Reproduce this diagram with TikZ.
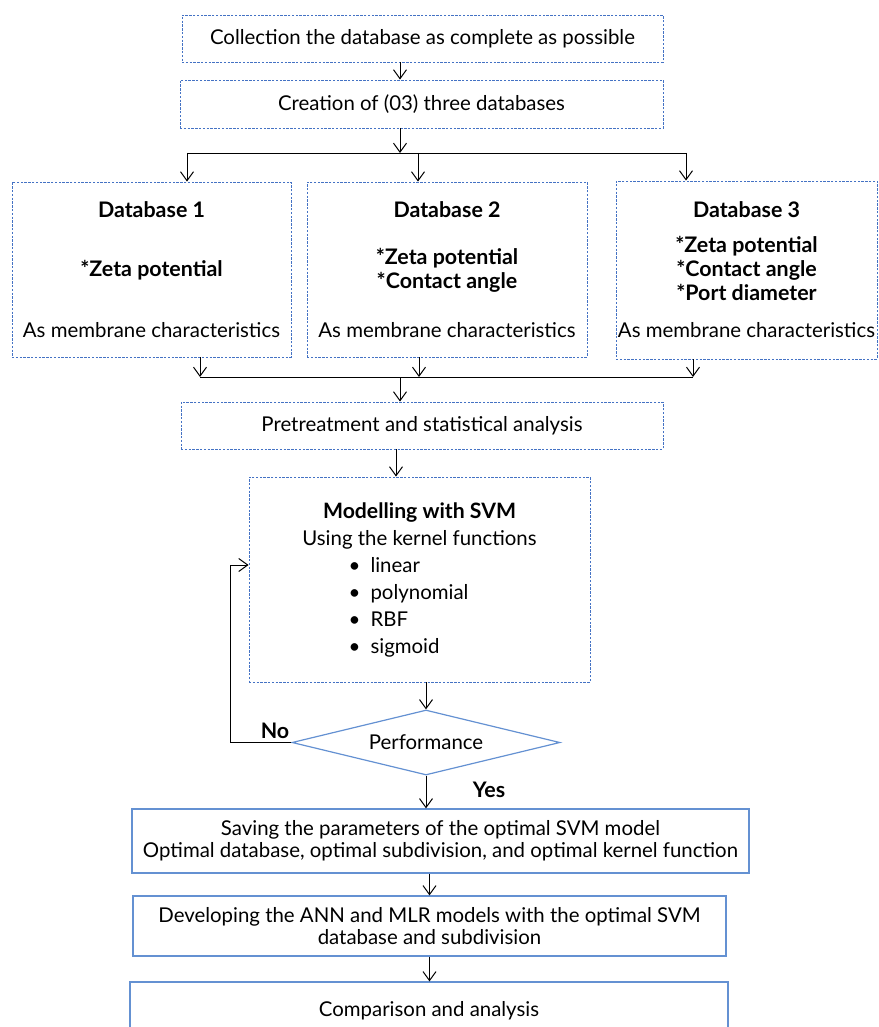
\documentclass[tikz,border=0pt]{standalone}
\usepackage{fontspec}
\setmainfont{Lato}
\usepackage{xcolor}
\usepackage{tikz}
\usetikzlibrary{shapes.geometric,arrows.meta,positioning,calc}

\definecolor{dashblue}{RGB}{68,114,196}
\definecolor{lineblue}{RGB}{100,145,210}

\newcommand{\dbhead}[1]{{\fontsize{10.7}{12}\selectfont\bfseries #1}}

\begin{document}
\begin{tikzpicture}[x=0.5pt, y=-0.5pt,
    dbox/.style={rectangle, draw=dashblue, line width=0.45pt, dash pattern=on 1.2pt off 0.7pt, inner sep=0pt, align=center, font=\fontsize{10.2}{12}\selectfont},
    sbox/.style={rectangle, draw=lineblue, line width=0.6pt, inner sep=0pt, align=center, font=\fontsize{10.2}{11}\selectfont},
    decision/.style={diamond, draw=lineblue, line width=0.6pt, inner sep=0pt, aspect=4, font=\fontsize{10.2}{11}\selectfont},
    arrow/.style={-{Straight Barb[length=4.5pt, width=6.5pt, line width=0.5pt]}, line width=0.5pt},
    lbl/.style={font=\fontsize{10.7}{12}\selectfont\bfseries}
]
\useasboundingbox (0,0) rectangle (878,1027);

% Top boxes
\node[dbox, minimum width=240.5pt, minimum height=23.5pt] (collect) at (422.5,38.5) {Collection the database as complete as possible};
\node[dbox, minimum width=241.5pt, minimum height=24pt] (create) at (421.5,104) {Creation of (03) three databases};

% Databases
\node[dbox, minimum width=139.5pt, minimum height=87.5pt] (db1) at (151.5,269.5)
  {\dbhead{Database 1}\\[17.5pt] \dbhead{*Zeta potential}\\[18.5pt] As membrane characteristics};
\node[dbox, minimum width=140pt, minimum height=87.5pt] (db2) at (447,269.5)
  {\dbhead{Database 2}\\[11.5pt] \dbhead{*Zeta potential}\\ \dbhead{*Contact angle}\\[12.5pt] As membrane characteristics};
\node[dbox, minimum width=130.5pt, minimum height=89pt] (db3) at (746.5,270)
  {\dbhead{Database 3}\\[5.5pt] \dbhead{*Zeta potential}\\ \dbhead{*Contact angle}\\ \dbhead{*Port diameter}\\[6.5pt] As membrane characteristics};

\node[dbox, minimum width=241pt, minimum height=23.5pt] (pre) at (422,425.5) {Pretreatment and statistical analysis};

% SVM block
\node[dbox, minimum width=170.5pt, minimum height=102.5pt, font=\fontsize{10.2}{13.5}\selectfont] (svm) at (419.5,579.5)
  {{\fontsize{10.6}{13.5}\selectfont\bfseries Modelling with SVM}\\ Using the kernel functions\\
   \makebox[71pt][l]{\textbullet\enspace linear}\\
   \makebox[71pt][l]{\textbullet\enspace polynomial}\\
   \makebox[71pt][l]{\textbullet\enspace RBF}\\
   \makebox[71pt][l]{\textbullet\enspace sigmoid}};

\node[decision, minimum width=134pt, minimum height=32.5pt] (perf) at (426,742.5) {Performance};

% Final steps
\node[sbox, minimum width=308.5pt, minimum height=32pt] (save) at (440.5,841)
  {Saving the parameters of the optimal SVM model\\ Optimal database, optimal subdivision, and optimal kernel function};
\node[sbox, minimum width=296.5pt, minimum height=30pt] (dev) at (429.5,926)
  {Developing the ANN and MLR models with the optimal SVM\\ database and subdivision};
\node[sbox, minimum width=299pt, minimum height=29pt] (comp) at (429,1011) {Comparison and analysis};

% Helper coordinates
\coordinate (spine) at (400,0);
\coordinate (s1) at (187,153);
\coordinate (s2) at (418,153);
\coordinate (s3) at (686,153);
\coordinate (m1) at (200,377);
\coordinate (m2) at (419,377);
\coordinate (m3) at (693,377);
\coordinate (loop) at (230,565);

% Arrows - main flow
\draw[arrow] (collect.south -| spine) -- (create.north -| spine);
\draw[arrow] (create.south -| spine) -- (spine |- s1);
\draw (s1) -- (s3);
\draw[arrow] (s1) -- (s1 |- db1.north);
\draw[arrow] (s2) -- (s2 |- db2.north);
\draw[arrow] (s3) -- (s3 |- db3.north);

% Merge
\draw[arrow] (m1 |- db1.south) -- (m1);
\draw[arrow] (m2 |- db2.south) -- (m2);
\draw[arrow] (m3 |- db3.south) -- (m3);
\draw (m1) -- (m3);
\draw[arrow] (spine |- m1) -- (spine |- pre.north);

\draw[arrow] ([xshift=-13pt]pre.south) -- ([xshift=-11.75pt]svm.north);
\draw[arrow] (svm.south -| perf.north) -- (perf.north);

% Loop back
\draw[arrow] (perf.west) -| (loop) -- (loop -| svm.west);
\node[lbl] (no) at (275,731) {No};

\draw[arrow] (perf.south) -- (perf.south |- save.north);
\node[lbl] (yes) at (489,790) {Yes};

\draw[arrow] (dev.north |- save.south) -- (dev.north);
\draw[arrow] (dev.south) -- (dev.south |- comp.north);

\end{tikzpicture}
\end{document}
